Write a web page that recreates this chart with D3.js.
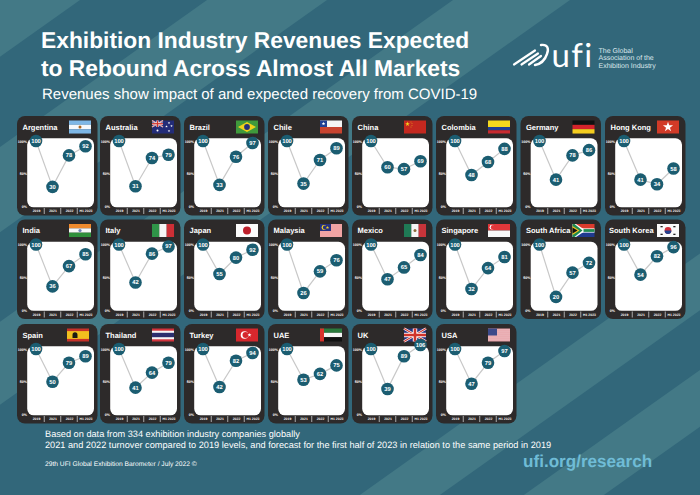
<!DOCTYPE html>
<html>
<head>
<meta charset="utf-8">
<title>Exhibition Industry Revenues</title>
<script src="https://cdn.jsdelivr.net/npm/d3@7"></script>
<style>
	html, body { margin: 0; padding: 0; background: #32677a; }
	svg { display: block; font-family: "Liberation Sans", Arial, sans-serif; text-rendering: geometricPrecision; }
	.tick text { fill: #fff; font-weight: bold; }
</style>
</head>
<body>
<div id="chart"></div>
<script>
'use strict';

(function () {

	var width = 700, height = 495;

	var periods = ['2019', '2021', '2022', 'H1 2023'];

	// one row per market, row/col = position in the grid
	var markets = [
		{ name: 'Argentina', row: 0, col: 0, values: [100, 30, 78, 92] },
		{ name: 'Australia', row: 0, col: 1, values: [100, 31, 74, 79] },
		{ name: 'Brazil', row: 0, col: 2, values: [100, 33, 76, 97] },
		{ name: 'Chile', row: 0, col: 3, values: [100, 35, 71, 89] },
		{ name: 'China', row: 0, col: 4, values: [100, 60, 57, 69] },
		{ name: 'Colombia', row: 0, col: 5, values: [100, 48, 68, 88] },
		{ name: 'Germany', row: 0, col: 6, values: [100, 41, 78, 86] },
		{ name: 'Hong Kong', row: 0, col: 7, values: [100, 41, 34, 58] },
		{ name: 'India', row: 1, col: 0, values: [100, 36, 67, 85] },
		{ name: 'Italy', row: 1, col: 1, values: [100, 42, 86, 97] },
		{ name: 'Japan', row: 1, col: 2, values: [100, 55, 80, 92] },
		{ name: 'Malaysia', row: 1, col: 3, values: [100, 26, 59, 76] },
		{ name: 'Mexico', row: 1, col: 4, values: [100, 47, 65, 84] },
		{ name: 'Singapore', row: 1, col: 5, values: [100, 32, 64, 81] },
		{ name: 'South Africa', row: 1, col: 6, values: [100, 20, 57, 72] },
		{ name: 'South Korea', row: 1, col: 7, values: [100, 54, 82, 96] },
		{ name: 'Spain', row: 2, col: 0, values: [100, 50, 79, 89] },
		{ name: 'Thailand', row: 2, col: 1, values: [100, 41, 64, 79] },
		{ name: 'Turkey', row: 2, col: 2, values: [100, 42, 82, 94] },
		{ name: 'UAE', row: 2, col: 3, values: [100, 53, 62, 75] },
		{ name: 'UK', row: 2, col: 4, values: [100, 39, 89, 106] },
		{ name: 'USA', row: 2, col: 5, values: [100, 47, 79, 97] }
	];

	var colLeft = [17, 100, 184, 268, 352, 436, 520.5, 605];
	var rowTop = [116, 219.5, 324];
	var cardW = 80.5, cardH = 99.5;

	var svg = d3.select('#chart').append('svg')
		.attr('width', width)
		.attr('height', height);

	// background stripes, given as x where the edge meets the top of the page
	var slope = 0.71;
	var bands = [[-10, 80], [207, 327], [453, 570], [1057, 1137], [1221, 1301]];

	svg.append('rect').attr('width', width).attr('height', height).attr('fill', '#32677a');
	svg.selectAll('polygon.band').data(bands).enter().append('polygon')
		.attr('class', 'band')
		.attr('fill', '#437986')
		.attr('points', function (d) {
			var dx = height / slope;
			return [[d[0], 0], [d[1], 0], [d[1] - dx, height], [d[0] - dx, height]].join(' ');
		});

	// header
	var titles = [
		{ t: 'Exhibition Industry Revenues Expected', y: 48 },
		{ t: 'to Rebound Across Almost All Markets', y: 76 }
	];
	svg.selectAll('text.title').data(titles).enter().append('text')
		.attr('class', 'title')
		.attr('x', 41)
		.attr('y', function (d) { return d.y; })
		.attr('fill', '#fff')
		.attr('font-size', 22.8)
		.attr('font-weight', 'bold')
		.text(function (d) { return d.t; });

	svg.append('text')
		.attr('x', 42).attr('y', 99)
		.attr('fill', '#fff')
		.attr('font-size', 15)
		.text('Revenues show impact of and expected recovery from COVID-19');

	// logo
	var logo = svg.append('g').attr('fill', 'none').attr('stroke', '#fff').attr('stroke-linecap', 'round');
	[[514, 64.5, 535, 50.5], [521.5, 64.5, 538, 53.5], [529, 64.5, 541, 56]].forEach(function (s) {
		logo.append('line')
			.attr('x1', s[0]).attr('y1', s[1]).attr('x2', s[2]).attr('y2', s[3])
			.attr('stroke-width', 2.2);
	});
	logo.append('path')
		.attr('stroke-width', 2.4)
		.attr('d', 'M541 45 C548 44 549 49 547 54 C545 60 541 64 535 65');
	svg.append('text')
		.attr('x', 551.5).attr('y', 67)
		.attr('fill', '#fff')
		.attr('font-family', 'Lato, "Open Sans", sans-serif')
		.attr('font-size', 33)
		.attr('letter-spacing', 1.4)
		.text('ufi');
	svg.selectAll('text.tag').data(['The Global', 'Association of the', 'Exhibition Industry']).enter().append('text')
		.attr('class', 'tag')
		.attr('x', 598.5)
		.attr('y', function (d, i) { return 53 + i * 7.4; })
		.attr('fill', '#dce8ec')
		.attr('font-size', 7)
		.text(function (d) { return d; });

	// small helpers for the flags, all flags are drawn in a 22 x 13 box
	function rect(g, x, y, w, h, fill) {
		g.append('rect').attr('x', x).attr('y', y).attr('width', w).attr('height', h).attr('fill', fill);
	}
	function dot(g, x, y, r, fill) {
		g.append('circle').attr('cx', x).attr('cy', y).attr('r', r).attr('fill', fill);
	}
	function star(g, x, y, size, fill) {
		g.append('path')
			.attr('d', d3.symbol().type(d3.symbolStar).size(size)())
			.attr('transform', 'translate(' + x + ',' + y + ')')
			.attr('fill', fill);
	}
	function poly(g, pts, fill) {
		g.append('polygon').attr('points', pts).attr('fill', fill);
	}
	function hStripes(g, colors) {
		var h = 13 / colors.length;
		colors.forEach(function (c, i) { rect(g, 0, i * h, 22, h + 0.05, c); });
	}
	function vStripes(g, colors) {
		var w = 22 / colors.length;
		colors.forEach(function (c, i) { rect(g, i * w, 0, w + 0.05, 13, c); });
	}
	function unionJack(g, w, h) {
		rect(g, 0, 0, w, h, '#27347f');
		[[0, 0, w, h], [0, h, w, 0]].forEach(function (s) {
			g.append('line').attr('x1', s[0]).attr('y1', s[1]).attr('x2', s[2]).attr('y2', s[3])
				.attr('stroke', '#fff').attr('stroke-width', h * 0.2);
			g.append('line').attr('x1', s[0]).attr('y1', s[1]).attr('x2', s[2]).attr('y2', s[3])
				.attr('stroke', '#d0342c').attr('stroke-width', h * 0.08);
		});
		rect(g, w / 2 - h * 0.17, 0, h * 0.34, h, '#fff');
		rect(g, 0, h * 0.33, w, h * 0.34, '#fff');
		rect(g, w / 2 - h * 0.1, 0, h * 0.2, h, '#d0342c');
		rect(g, 0, h * 0.4, w, h * 0.2, '#d0342c');
	}

	var flags = {
		'Argentina': function (g) {
			hStripes(g, ['#7db7e6', '#f4f8fb', '#7db7e6']);
			dot(g, 11, 6.5, 1.5, '#a8641e');
		},
		'Australia': function (g) {
			rect(g, 0, 0, 22, 13, '#232c78');
			unionJack(g, 11, 6.5);
			dot(g, 5.5, 10, 1, '#fff');
			star(g, 17, 2.5, 2, '#fff');
			star(g, 14.5, 6, 2, '#fff');
			star(g, 19.5, 5.5, 2, '#fff');
			star(g, 17, 10.5, 2, '#fff');
		},
		'Brazil': function (g) {
			rect(g, 0, 0, 22, 13, '#3f9a3c');
			poly(g, '11,1.5 20,6.5 11,11.5 2,6.5', '#f0d21c');
			dot(g, 11, 6.5, 2.9, '#24307a');
		},
		'Chile': function (g) {
			rect(g, 0, 0, 22, 6.5, '#f4f4f4');
			rect(g, 0, 6.5, 22, 6.5, '#c8432f');
			rect(g, 0, 0, 7, 6.5, '#1f3f95');
			star(g, 3.5, 3.2, 4, '#fff');
		},
		'China': function (g) {
			rect(g, 0, 0, 22, 13, '#c4281f');
			star(g, 3.5, 3.5, 7, '#f2d21b');
			dot(g, 7, 1.5, 0.4, '#f2d21b');
			dot(g, 8, 3, 0.4, '#f2d21b');
			dot(g, 8, 5, 0.4, '#f2d21b');
			dot(g, 7, 6.5, 0.4, '#f2d21b');
		},
		'Colombia': function (g) {
			rect(g, 0, 0, 22, 6.5, '#f5d91f');
			rect(g, 0, 6.5, 22, 3.25, '#1f3f95');
			rect(g, 0, 9.75, 22, 3.25, '#c92a2f');
		},
		'Germany': function (g) {
			hStripes(g, ['#111', '#d4232b', '#f5cd1e']);
		},
		'Hong Kong': function (g) {
			rect(g, 0, 0, 22, 13, '#d23a27');
			star(g, 11, 6.5, 32, '#fff');
		},
		'India': function (g) {
			hStripes(g, ['#f08a2c', '#f7f7f7', '#2f8f3a']);
			dot(g, 11, 6.5, 1.6, '#6f7fb5');
		},
		'Italy': function (g) {
			vStripes(g, ['#2f9448', '#f5f5f5', '#cd2f36']);
		},
		'Japan': function (g) {
			rect(g, 0, 0, 22, 13, '#fbfbfb');
			dot(g, 11, 6.5, 4, '#bd1f2b');
		},
		'Malaysia': function (g) {
			rect(g, 0, 0, 22, 13, '#f0a3a3');
			rect(g, 0, 0, 11, 7, '#27317e');
			dot(g, 4, 3.5, 2.4, '#f5d21d');
			dot(g, 4.9, 3.5, 2, '#27317e');
			star(g, 7.5, 3.5, 3.5, '#f5d21d');
		},
		'Mexico': function (g) {
			vStripes(g, ['#1f7a55', '#f5f5f5', '#c8343a']);
			dot(g, 11, 6.5, 1.5, '#8c6a3a');
		},
		'Singapore': function (g) {
			rect(g, 0, 0, 22, 6.5, '#e2373a');
			rect(g, 0, 6.5, 22, 6.5, '#f8f8f8');
			dot(g, 4, 3.2, 2.4, '#fff');
			dot(g, 5, 3.2, 2.2, '#e2373a');
		},
		'South Africa': function (g) {
			rect(g, 0, 0, 22, 6.5, '#dc3a2c');
			rect(g, 0, 6.5, 22, 6.5, '#1f3a8f');
			rect(g, 8, 4.4, 14, 4.2, '#fff');
			rect(g, 8, 5.1, 14, 2.8, '#1f8a50');
			poly(g, '0,0 3.5,0 11,5.1 11,7.9 3.5,13 0,13', '#fff');
			poly(g, '0,0 2,0 10,6.5 2,13 0,13', '#1f8a50');
			poly(g, '0,2 7,6.5 0,11', '#f3be1c');
			poly(g, '0,3.5 5,6.5 0,9.5', '#111');
		},
		'South Korea': function (g) {
			rect(g, 0, 0, 22, 13, '#fafafa');
			dot(g, 11, 6.5, 3.4, '#d0303a');
			g.append('path').attr('d', 'M7.6 6.5 A3.4 3.4 0 0 0 14.4 6.5 Z').attr('fill', '#20418f');
			rect(g, 3.5, 2, 2.2, 1.3, '#222');
			rect(g, 16.3, 2, 2.2, 1.3, '#222');
			rect(g, 3.5, 9.7, 2.2, 1.3, '#222');
			rect(g, 16.3, 9.7, 2.2, 1.3, '#222');
		},
		'Spain': function (g) {
			rect(g, 0, 0, 22, 13, '#c8322a');
			rect(g, 0, 2.6, 22, 7.8, '#f2c01e');
			g.append('path').attr('d', 'M5.5 9.5 V6.5 A2.5 2.8 0 0 1 10.5 6.5 V9.5 Z').attr('fill', '#1c1a12');
		},
		'Thailand': function (g) {
			rect(g, 0, 0, 22, 13, '#d3333c');
			rect(g, 0, 2.2, 22, 8.6, '#f6f6f6');
			rect(g, 0, 4.3, 22, 4.4, '#2c2f6e');
		},
		'Turkey': function (g) {
			rect(g, 0, 0, 22, 13, '#d6272d');
			dot(g, 8.5, 6.5, 3.8, '#fff');
			dot(g, 9.5, 6.5, 3, '#d6272d');
			star(g, 13.5, 6.5, 5, '#fff');
		},
		'UAE': function (g) {
			rect(g, 0, 0, 22, 4.3, '#2a7a3c');
			rect(g, 0, 4.3, 22, 4.4, '#f6f6f6');
			rect(g, 0, 8.7, 22, 4.3, '#111');
			rect(g, 0, 0, 4, 13, '#d8322c');
		},
		'UK': function (g) {
			unionJack(g, 22, 13);
		},
		'USA': function (g) {
			rect(g, 0, 0, 22, 13, '#e39aa0');
			d3.range(1, 13, 2).forEach(function (i) {
				rect(g, 0, i, 22, 0.9, '#f2c8cb');
			});
			rect(g, 0, 0, 9, 7, '#3c4a8a');
		}
	};

	// y axis and x axis are shared, every card has the same frame
	var y = d3.scaleLinear().domain([0, 100]).range([90.5, 25]);
	var x = d3.scalePoint().domain(periods).range([19, 68.5]);

	var cards = svg.selectAll('g.card').data(markets).enter().append('g')
		.attr('class', 'card')
		.attr('transform', function (d) {
			return 'translate(' + colLeft[d.col] + ',' + rowTop[d.row] + ')';
		});

	cards.append('rect')
		.attr('width', cardW)
		.attr('height', cardH)
		.attr('rx', 8)
		.attr('fill', '#2d2a2a');

	cards.append('rect')
		.attr('x', 10.2)
		.attr('y', 22.3)
		.attr('width', 66.8)
		.attr('height', 69)
		.attr('rx', 6.5)
		.attr('fill', '#fff');

	cards.append('text')
		.attr('x', function (d) { return d.name === 'South Korea' ? 4 : 5.5; })
		.attr('y', 13.5)
		.attr('fill', '#fff')
		.attr('font-size', 7.5)
		.attr('font-weight', 'bold')
		.text(function (d) { return d.name; });

	cards.each(function (d) {
		var card = d3.select(this);

		var flag = card.append('g')
			.attr('transform', 'translate(' + (d.name === 'Spain' ? 50 : 52) + ',4.5)');
		flags[d.name](flag);

		var yAxis = card.append('g')
			.attr('transform', 'translate(10,0)')
			.call(d3.axisLeft(y).tickValues([0, 50, 100]).tickSize(0).tickPadding(0).tickFormat(function (v) {
				return v + '%';
			}));
		yAxis.select('.domain').remove();
		yAxis.selectAll('text').attr('font-size', 3.6).attr('font-family', null);

		var xAxis = card.append('g')
			.attr('transform', 'translate(0,92.5)')
			.call(d3.axisBottom(x).tickSize(0).tickPadding(1.5));
		xAxis.select('.domain').remove();
		xAxis.selectAll('text').attr('font-size', 3.4).attr('font-family', null);

		// separators sit half way between the periods
		d3.pairs(periods).forEach(function (p) {
			var mx = (x(p[0]) + x(p[1])) / 2;
			card.append('line')
				.attr('x1', mx).attr('x2', mx)
				.attr('y1', 92).attr('y2', 98)
				.attr('stroke', '#fff')
				.attr('stroke-width', 0.6);
		});

		var points = d.values.map(function (v, i) {
			return { period: periods[i], value: v };
		});

		card.append('path')
			.datum(points)
			.attr('fill', 'none')
			.attr('stroke', '#c8c8c8')
			.attr('stroke-width', 1.2)
			.attr('d', d3.line()
				.x(function (p) { return x(p.period); })
				.y(function (p) { return y(p.value); }));

		var nodes = card.selectAll('g.node').data(points).enter().append('g')
			.attr('class', 'node')
			.attr('transform', function (p) {
				return 'translate(' + x(p.period) + ',' + y(p.value) + ')';
			});

		nodes.append('circle')
			.attr('r', 6.3)
			.attr('fill', '#1b5d71');

		nodes.append('text')
			.attr('text-anchor', 'middle')
			.attr('dy', 2)
			.attr('fill', '#fff')
			.attr('font-size', 5.8)
			.attr('font-weight', 'bold')
			.text(function (p) { return p.value; });
	});

	// footer
	svg.selectAll('text.note').data([
		{ t: 'Based on data from 334 exhibition industry companies globally', y: 437 },
		{ t: '2021 and 2022 turnover compared to 2019 levels, and forecast for the first half of 2023 in relation to the same period in 2019', y: 448 }
	]).enter().append('text')
		.attr('class', 'note')
		.attr('x', 45)
		.attr('y', function (d) { return d.y; })
		.attr('fill', '#fff')
		.attr('font-size', 9.2)
		.text(function (d) { return d.t; });

	svg.append('text')
		.attr('x', 45).attr('y', 466)
		.attr('fill', '#fff')
		.attr('font-size', 6.7)
		.text('29th UFI Global Exhibition Barometer / July 2022 ©');

	svg.append('text')
		.attr('x', 523).attr('y', 467)
		.attr('fill', '#6fbcd6')
		.attr('font-size', 17.1)
		.attr('font-weight', 'bold')
		.text('ufi.org/research');

})();
</script>
</body>
</html>
